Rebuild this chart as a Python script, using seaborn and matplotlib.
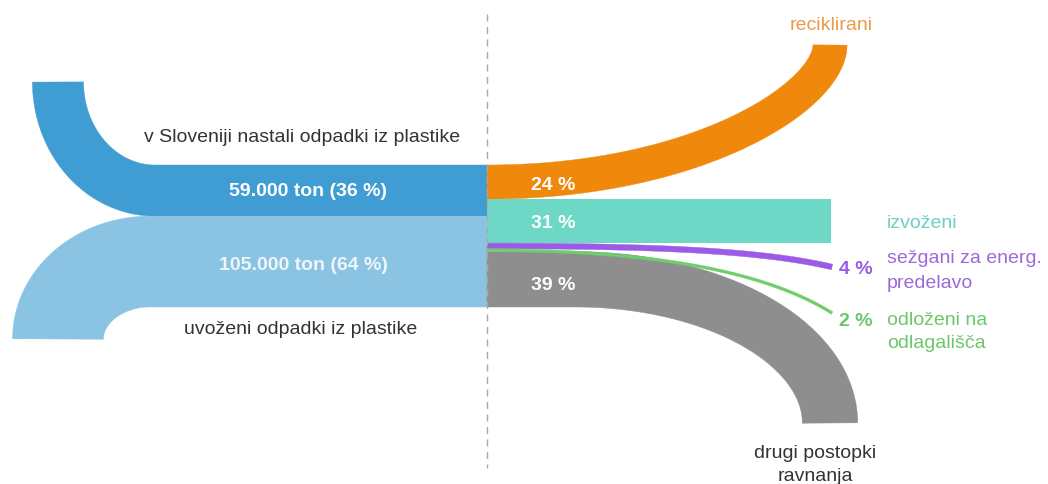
import numpy as np
import matplotlib
matplotlib.use("Agg")
import matplotlib.pyplot as plt
import seaborn as sns
from matplotlib.patches import Polygon, Rectangle

# ---------------- data ----------------
sources = ["v Sloveniji nastali odpadki iz plastike", "uvoženi odpadki iz plastike"]
source_tons = ["59.000", "105.000"]
source_pct = [36, 64]
targets = ["reciklirani", "izvoženi", "sežgani za energ.\npredelavo",
           "odloženi na\nodlagališča", "drugi postopki\nravnanja"]
target_pct = [24, 31, 4, 2, 39]

# ---------------- style ----------------
sns.set_theme(style="white")
plt.rcParams["font.family"] = ["Liberation Sans", "DejaVu Sans"]

C_SRC = ["#3f9dd4", "#8bc3e3"]
C_TGT = ["#f0880c", "#6dd8c6", "#9b5be6", "#6ccf6c", "#8e8e8e"]
C_TGT_TXT = ["#eb9a4a", "#6fcfc0", "#9d68dc", "#6cc76c", "#333333"]
TXT = "#333333"

W, H = 1048, 484
fig = plt.figure(figsize=(W / 100, H / 100), dpi=100)
ax = fig.add_axes([0, 0, 1, 1])
ax.set_xlim(0, W)
ax.set_ylim(H, 0)
ax.axis("off")

PX = 1.42          # pixels per percent
TOP = 165.0        # top of the stacked bands
XMID = 487.0       # junction x


def band(pts, w, color, z=2):
    pts = np.asarray(pts, float)
    d = np.gradient(pts, axis=0)
    n = np.stack([-d[:, 1], d[:, 0]], axis=1)
    n /= np.linalg.norm(n, axis=1)[:, None]
    up = pts + n * w / 2
    lo = pts - n * w / 2
    poly = np.vstack([up, lo[::-1]])
    ax.add_patch(Polygon(poly, closed=True, facecolor=color, edgecolor=color,
                         lw=0.3, zorder=z))


def hline(x0, x1, y, n=40):
    xs = np.linspace(x0, x1, n, endpoint=False)
    return np.stack([xs, np.full(n, y)], axis=1)


def bezier(p0, p1, p2, p3, n=300):
    t = np.linspace(0, 1, n)[:, None]
    p0, p1, p2, p3 = map(np.asarray, (p0, p1, p2, p3))
    return ((1 - t) ** 3) * p0 + 3 * ((1 - t) ** 2) * t * p1 + 3 * (1 - t) * t ** 2 * p2 + t ** 3 * p3


th = np.linspace(0, np.pi / 2, 200)

# ---- source 1 (dark blue) : left, then up
t1 = source_pct[0] * PX
c1 = TOP + t1 / 2
a, b = 97, c1 - 82
arc = np.stack([155 - a * np.sin(th), 82 + b * np.cos(th)], axis=1)
band(np.vstack([hline(XMID, 155, c1), arc]), t1, C_SRC[0])

# ---- source 2 (light blue) : left, then down
t2 = source_pct[1] * PX
c2 = TOP + t1 + t2 / 2
a, b = 92, 339 - c2
arc = np.stack([150 - a * np.sin(th), 339 - b * np.cos(th)], axis=1)
band(np.vstack([hline(XMID, 150, c2), arc]), t2, C_SRC[1])

# ---- targets
tops = TOP + np.concatenate([[0], np.cumsum(target_pct)[:-1]]) * PX
ths = np.array(target_pct) * PX
cents = tops + ths / 2

# reciklirani: right then up
band(bezier((XMID, cents[0]), (700, cents[0]), (830, 95), (830, 45)), ths[0], C_TGT[0])

# izvoženi: straight
ax.add_patch(Rectangle((XMID, tops[1]), 831 - XMID, ths[1],
                       facecolor=C_TGT[1], edgecolor="none", zorder=2))

# sežgani: thin curved band
band(bezier((XMID, cents[2]), (650, cents[2]), (760, 250), (832, 267)), ths[2], C_TGT[2], z=3)

# odloženi: thin curved band
band(bezier((XMID, cents[3]), (640, cents[3]), (760, 268), (832, 313)), ths[3], C_TGT[3], z=3)

# drugi postopki: right then down
a, b = 255, 423 - cents[4]
arc = np.stack([575 + a * np.sin(th), 423 - b * np.cos(th)], axis=1)
band(np.vstack([hline(XMID, 575, cents[4]), arc]), ths[4], C_TGT[4])

# dashed separator
ax.plot([XMID, XMID], [14, 468], color="#a8a8a8", lw=1.0,
        dashes=(5, 4), zorder=5)

# ---------------- text ----------------
FS = 14
ax.text(302, 137, sources[0], ha="center", va="center", fontsize=FS, color=TXT)
ax.text(301, 330, sources[1], ha="center", va="center", fontsize=FS, color=TXT)
ax.text(308, 192, f"{source_tons[0]} ton ({source_pct[0]} %)", ha="center",
        va="center", fontsize=FS, color="white", fontweight="bold")
ax.text(303, 266, f"{source_tons[1]} ton ({source_pct[1]} %)", ha="center",
        va="center", fontsize=FS, color="#eef6fb", fontweight="bold")

for pct, yy in zip([target_pct[0], target_pct[1], target_pct[4]], [186, 223, 285]):
    ax.text(531, yy, f"{pct} %", ha="left", va="center", fontsize=FS,
            color="white", fontweight="bold", zorder=6)

ax.text(831, 25, targets[0], ha="center", va="center", fontsize=FS, color=C_TGT_TXT[0])
ax.text(887, 224, targets[1], ha="left", va="center", fontsize=FS, color=C_TGT_TXT[1])
ax.text(839, 269, f"{target_pct[2]} %", ha="left", va="center", fontsize=FS,
        color=C_TGT[2], fontweight="bold")
ax.text(887, 271, targets[2], ha="left", va="center", fontsize=FS,
        color=C_TGT_TXT[2], linespacing=1.65)
ax.text(839, 321, f"{target_pct[3]} %", ha="left", va="center", fontsize=FS,
        color=C_TGT_TXT[3], fontweight="bold")
ax.text(887, 332, targets[3], ha="left", va="center", fontsize=FS,
        color=C_TGT_TXT[3], linespacing=1.43)
ax.text(815, 465, targets[4], ha="center", va="center", fontsize=FS,
        color=TXT, linespacing=1.45)

fig.savefig("out.png", dpi=100, facecolor="white")
